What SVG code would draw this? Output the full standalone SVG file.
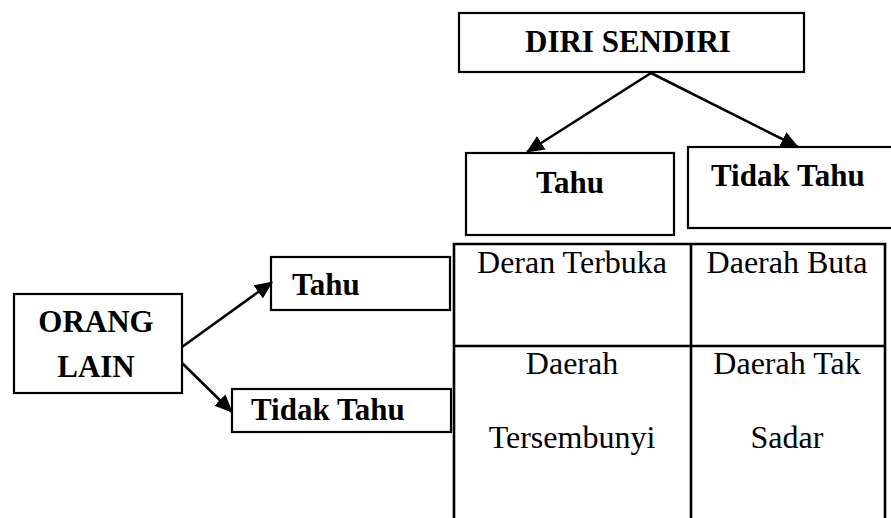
<svg xmlns="http://www.w3.org/2000/svg" width="891" height="518" viewBox="0 0 891 518">
<style>
.box{fill:#fff;stroke:#000;stroke-width:2.2}
.grid{fill:none;stroke:#000;stroke-width:2.6}
text{font-family:'Liberation Serif','Times New Roman',Times,'DejaVu Serif',serif;fill:#000}
.b{font-weight:bold;font-size:31px}
.r{font-size:32px;text-anchor:middle}
.conn{stroke:#000;stroke-width:2.6;fill:none}
</style>
<defs>
<marker id="ah" markerUnits="userSpaceOnUse" markerWidth="18" markerHeight="16" refX="17" refY="8" orient="auto">
<path d="M0,0 L18,8 L0,16 Z" fill="#000"/>
</marker>
</defs>
<rect width="891" height="518" fill="#fff"/>
<g id="diri-sendiri"><rect class="box" x="459" y="13" width="345" height="59"/><text class="b" x="525" y="52">DIRI SENDIRI</text></g>
<g id="ds-tahu"><rect class="box" x="466" y="153" width="208" height="82"/><text class="b" x="570" y="193" text-anchor="middle">Tahu</text></g>
<g id="ds-tidak-tahu"><rect class="box" x="688" y="147" width="206" height="81"/><text class="b" x="711" y="186">Tidak Tahu</text></g>
<g id="orang-lain"><rect class="box" x="14" y="294" width="168" height="99"/><text class="b" x="96" y="332" text-anchor="middle">ORANG</text><text class="b" x="96" y="377" text-anchor="middle">LAIN</text></g>
<g id="ol-tahu"><rect class="box" x="271" y="257" width="179" height="53"/><text class="b" x="292" y="295">Tahu</text></g>
<g id="ol-tidak-tahu"><rect class="box" x="232" y="389" width="219" height="43"/><text class="b" x="251" y="420">Tidak Tahu</text></g>
<g id="grid">
<path class="grid" d="M454,530 V244 H885 V530 M691,244 V530 M454,346 H885"/>
<text class="r" x="572" y="273">Deran Terbuka</text>
<text class="r" x="787" y="273">Daerah Buta</text>
<text class="r" x="572" y="374">Daerah</text>
<text class="r" x="572" y="448">Tersembunyi</text>
<text class="r" x="787" y="374">Daerah Tak</text>
<text class="r" x="787" y="448">Sadar</text>
</g>
<g id="connectors">
<line class="conn" x1="651" y1="73" x2="527" y2="152" marker-end="url(#ah)"/>
<line class="conn" x1="651" y1="73" x2="798" y2="147" marker-end="url(#ah)"/>
<line class="conn" x1="182" y1="347" x2="272" y2="282" marker-end="url(#ah)"/>
<line class="conn" x1="182" y1="363" x2="232" y2="412" marker-end="url(#ah)"/>
</g>
</svg>
